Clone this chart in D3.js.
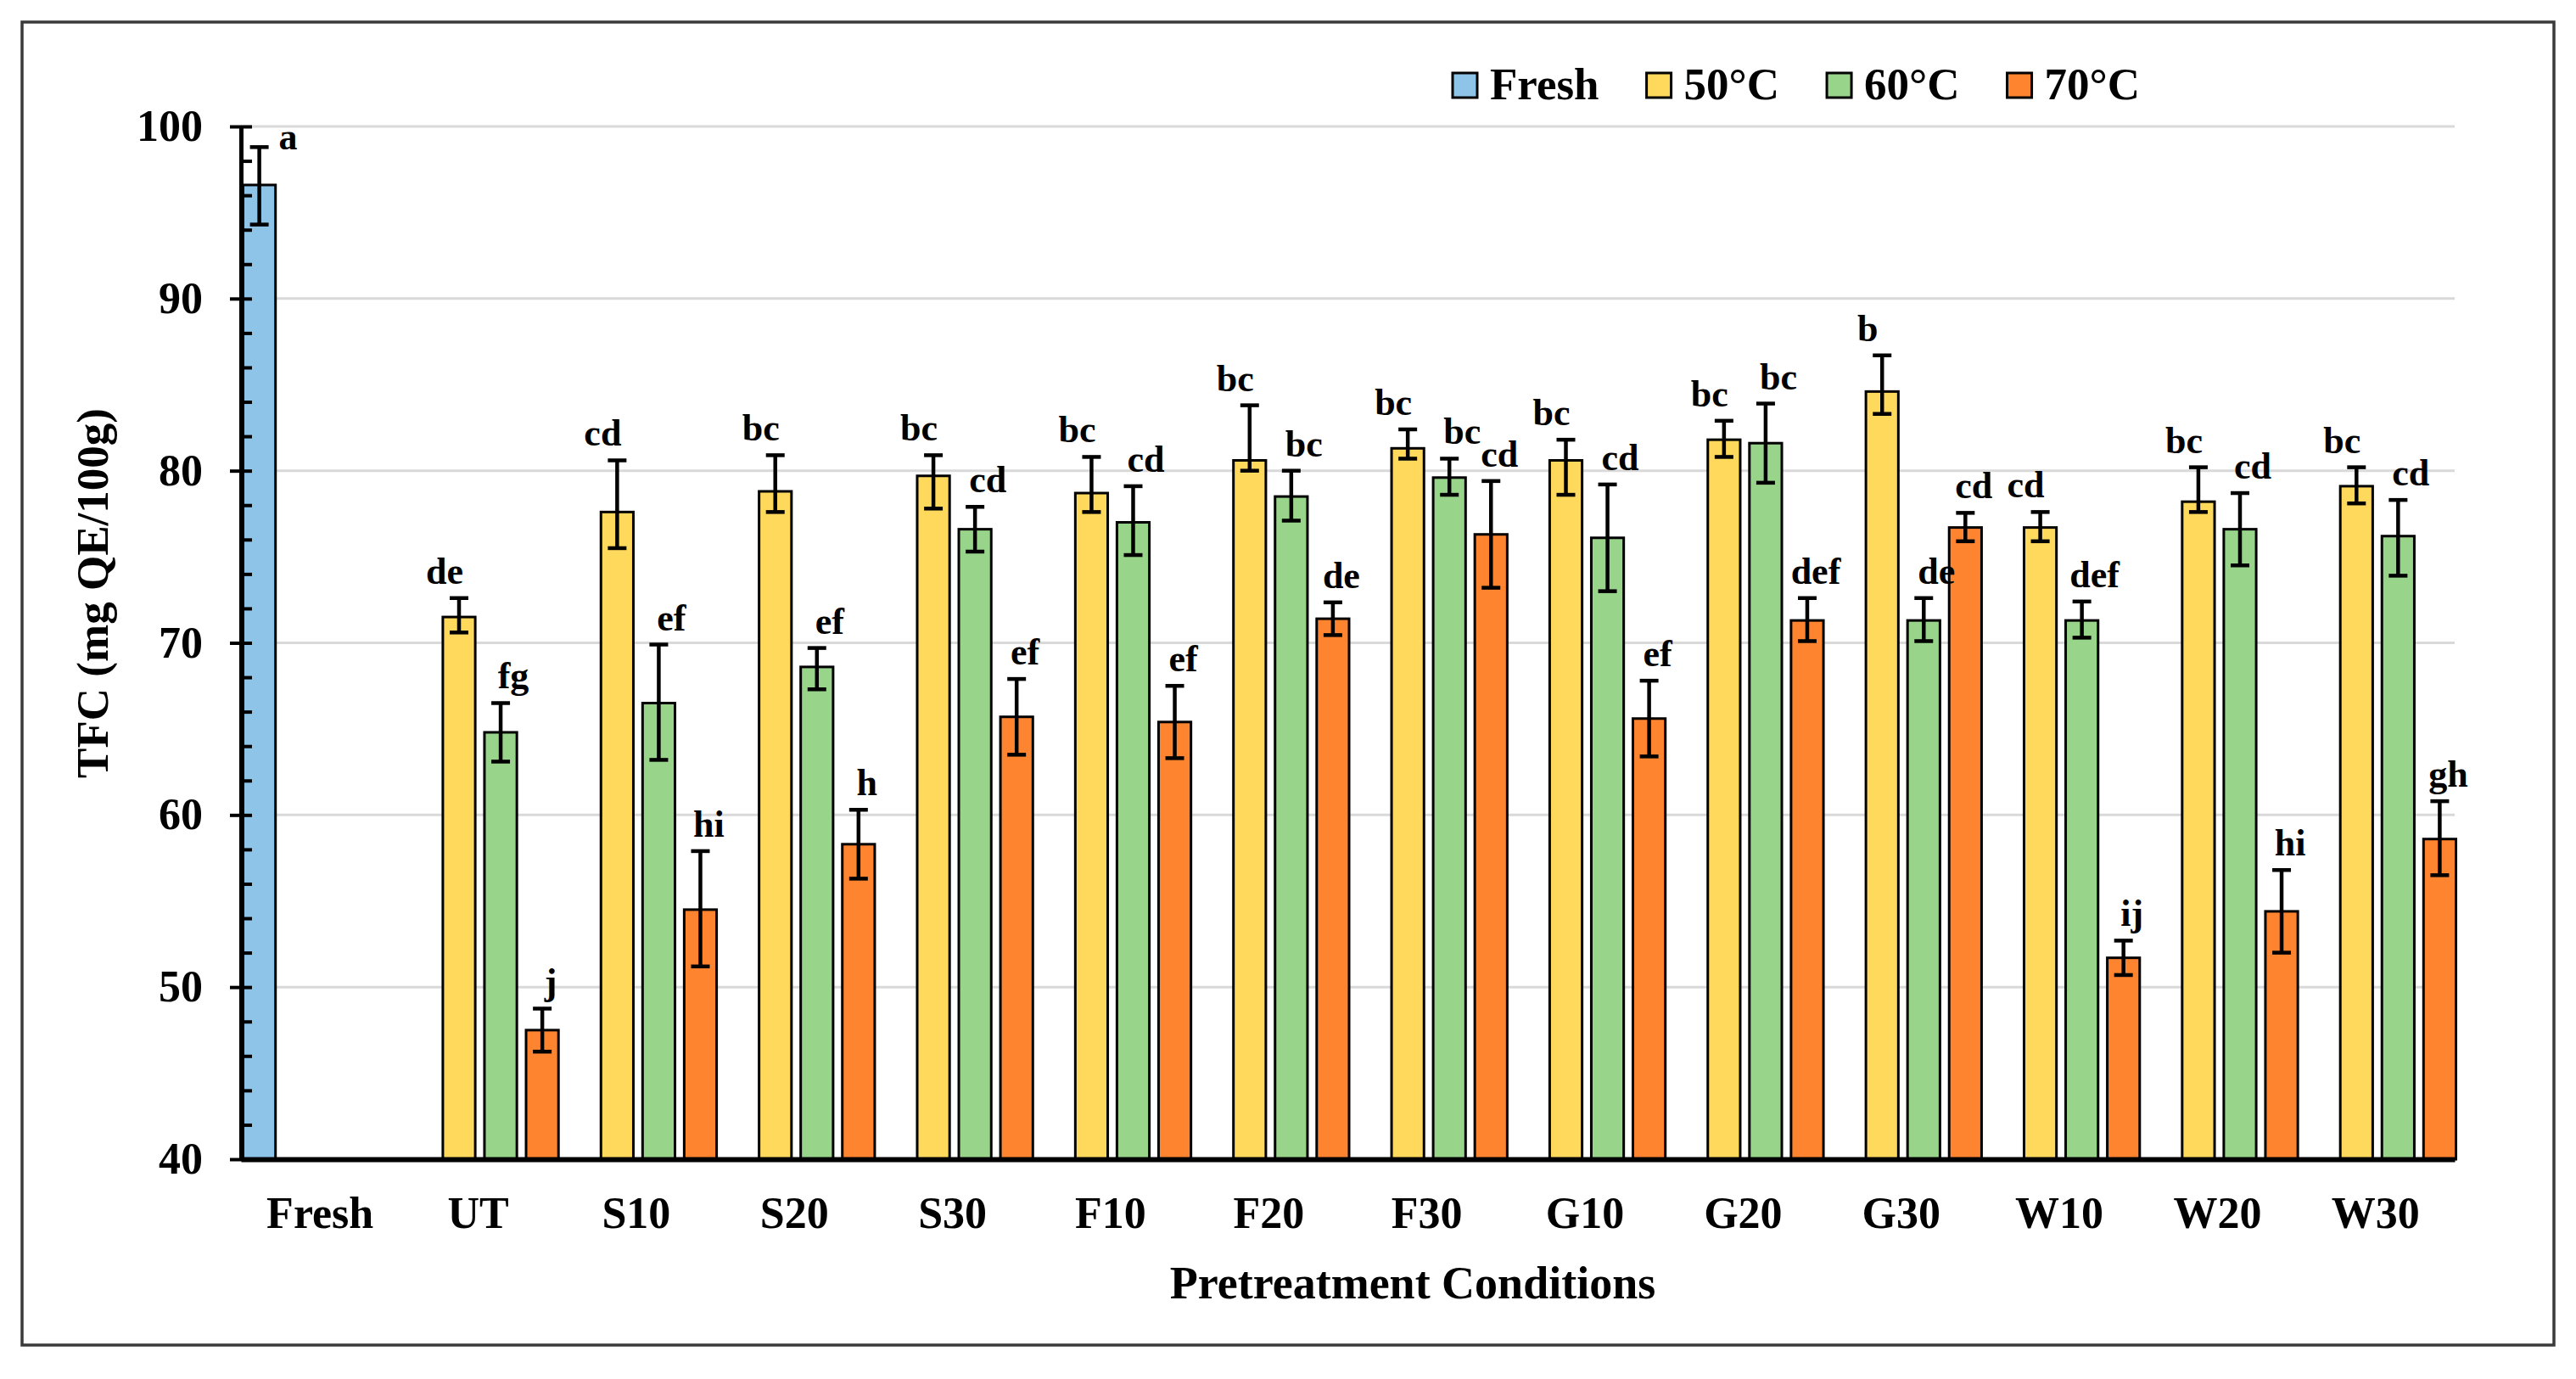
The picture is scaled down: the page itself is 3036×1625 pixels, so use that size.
<!DOCTYPE html>
<html>
<head>
<meta charset="utf-8">
<script src="https://cdn.jsdelivr.net/npm/d3@7"></script>
<style>
  body { margin: 0; background: #fff; }
  text { font-family: "Liberation Serif", "Times New Roman", serif; font-weight: bold; fill: #000; }
</style>
</head>
<body>
<div id="chart"></div>
<script>
// categories and series
var categories = ["Fresh", "UT", "S10", "S20", "S30", "F10", "F20", "F30", "G10", "G20", "G30", "W10", "W20", "W30"];
var treatments = categories.slice(1);
var seriesNames = ["Fresh", "50°C", "60°C", "70°C"];
var seriesColors = ["#8ec4e8", "#ffd95c", "#98d48a", "#ff8430"];
var yTickValues = [40, 50, 60, 70, 80, 90, 100];

// fresh sample
var freshMean = [96.6];
var freshErrUp = [2.2];
var freshErrDown = [2.3];
var freshLetters = ["a"];

// 50°C (UT ... W30)
var mean50 = [71.5, 77.6, 78.8, 79.7, 78.7, 80.6, 81.3, 80.6, 81.8, 84.6, 76.7, 78.2, 79.1];
var errUp50 = [1.1, 3.0, 2.1, 1.2, 2.1, 3.2, 1.1, 1.2, 1.1, 2.1, 0.9, 2.0, 1.1];
var errDown50 = [0.9, 2.1, 1.2, 1.9, 1.1, 0.6, 0.6, 2.0, 1.0, 1.3, 0.8, 0.6, 1.0];
var letters50 = ["de", "cd", "bc", "bc", "bc", "bc", "bc", "bc", "bc", "b", "cd", "bc", "bc"];

// 60°C
var mean60 = [64.8, 66.5, 68.6, 76.6, 77.0, 78.5, 79.6, 76.1, 81.6, 71.3, 71.3, 76.6, 76.2];
var errUp60 = [1.7, 3.4, 1.1, 1.3, 2.1, 1.5, 1.1, 3.1, 2.3, 1.3, 1.1, 2.1, 2.1];
var errDown60 = [1.7, 3.3, 1.3, 1.3, 1.9, 1.4, 1.0, 3.1, 2.3, 1.2, 1.0, 2.1, 2.3];
var letters60 = ["fg", "ef", "ef", "cd", "cd", "bc", "bc", "cd", "bc", "de", "def", "cd", "cd"];

// 70°C
var mean70 = [47.5, 54.5, 58.3, 65.7, 65.4, 71.4, 76.3, 65.6, 71.3, 76.7, 51.7, 54.4, 58.6];
var errUp70 = [1.25, 3.4, 2.0, 2.2, 2.1, 0.95, 3.1, 2.2, 1.3, 0.85, 1.0, 2.4, 2.2];
var errDown70 = [1.25, 3.3, 2.0, 2.2, 2.1, 0.95, 3.1, 2.2, 1.2, 0.8, 1.0, 2.4, 2.1];
var letters70 = ["j", "hi", "h", "ef", "ef", "de", "cd", "ef", "def", "cd", "ij", "hi", "gh"];

// build the bar list
var bars = [{cat: "Fresh", s: 0, mean: freshMean[0], up: freshErrUp[0], down: freshErrDown[0], letter: freshLetters[0]}];
var treatSeries = [
  [mean50, errUp50, errDown50, letters50],
  [mean60, errUp60, errDown60, letters60],
  [mean70, errUp70, errDown70, letters70]
];
treatments.forEach(function(c, i) {
  treatSeries.forEach(function(t, k) {
    bars.push({cat: c, s: k + 1, mean: t[0][i], up: t[1][i], down: t[2][i], letter: t[3][i]});
  });
});

// svg size and plot box
var svgWidth = 3036;
var svgHeight = 1625;
var plot = {left: 284, right: 2893, top: 149, bottom: 1366};

var svg = d3.select("#chart")
  .append("svg")
  .attr("width", svgWidth)
  .attr("height", svgHeight);

// outer frame
svg.append("rect")
  .attr("x", 26).attr("y", 26)
  .attr("width", 2984).attr("height", 1559)
  .attr("fill", "#fff")
  .attr("stroke", "#3a3a3a")
  .attr("stroke-width", 3.5);

// scales
var x0 = d3.scaleBand()
  .domain(categories)
  .range([plot.left, plot.right]);

var x1 = d3.scaleBand()
  .domain([0, 1, 2, 3])
  .range([1, x0.bandwidth() + 3])
  .paddingInner(0.16);

var y = d3.scaleLinear()
  .domain([40, 100])
  .range([plot.bottom, plot.top]);

// gridlines
svg.append("g").selectAll("line")
  .data(yTickValues.slice(1))
  .enter()
  .append("line")
  .attr("x1", plot.left).attr("x2", plot.right)
  .attr("y1", d => y(d)).attr("y2", d => y(d))
  .attr("stroke", "#d9d9d9")
  .attr("stroke-width", 3);

// bars
svg.append("g").selectAll("rect")
  .data(bars)
  .enter()
  .append("rect")
  .attr("x", d => x0(d.cat) + x1(d.s) + 1.5)
  .attr("width", x1.bandwidth() - 3)
  .attr("y", d => y(d.mean))
  .attr("height", d => y(40) - y(d.mean))
  .attr("fill", d => seriesColors[d.s])
  .attr("stroke", "#000")
  .attr("stroke-width", 3);

// error bars
var capHalf = 11;
var eb = svg.append("g").selectAll("g")
  .data(bars)
  .enter()
  .append("g")
  .attr("stroke", "#000")
  .attr("stroke-width", 4.5);

function cx(d) { return x0(d.cat) + x1(d.s) + x1.bandwidth() / 2; }

eb.append("line")
  .attr("x1", cx).attr("x2", cx)
  .attr("y1", d => y(d.mean + d.up))
  .attr("y2", d => y(d.mean - d.down));
eb.append("line")
  .attr("x1", d => cx(d) - capHalf).attr("x2", d => cx(d) + capHalf)
  .attr("y1", d => y(d.mean + d.up)).attr("y2", d => y(d.mean + d.up));
eb.append("line")
  .attr("x1", d => cx(d) - capHalf).attr("x2", d => cx(d) + capHalf)
  .attr("y1", d => y(d.mean - d.down)).attr("y2", d => y(d.mean - d.down));

// letter labels
var labelDx = [34, -17, 15, 10];
svg.append("g").selectAll("text")
  .data(bars)
  .enter()
  .append("text")
  .attr("x", d => cx(d) + labelDx[d.s])
  .attr("y", d => y(d.mean + d.up) + (d.s === 0 ? 3 : -17))
  .attr("text-anchor", "middle")
  .attr("font-size", "44px")
  .text(d => d.letter);

// y axis: major ticks (left part) with labels
var yAxis = svg.append("g")
  .attr("transform", `translate(${plot.left}, 0)`)
  .call(d3.axisLeft(y).tickValues(yTickValues).tickSize(13).tickPadding(32).tickSizeOuter(0));
yAxis.selectAll("text").attr("font-size", "52px").attr("font-family", null);
yAxis.select(".domain").attr("stroke", "#000").attr("stroke-width", 5);
yAxis.selectAll(".tick line").attr("stroke", "#000").attr("stroke-width", 4);

// y axis: inside ticks every 2 units
var minorValues = d3.range(40, 100.1, 2);
var yMinor = svg.append("g")
  .attr("transform", `translate(${plot.left}, 0)`)
  .call(d3.axisRight(y).tickValues(minorValues).tickSize(13).tickFormat("").tickSizeOuter(0));
yMinor.select(".domain").remove();
yMinor.selectAll(".tick line").attr("stroke", "#000").attr("stroke-width", 4);

// x axis
var xAxis = svg.append("g")
  .attr("transform", `translate(0, ${plot.bottom})`)
  .call(d3.axisBottom(x0).tickSize(0).tickPadding(44).tickSizeOuter(0));
xAxis.selectAll("text").attr("font-size", "52px").attr("font-family", null);
xAxis.select(".domain").attr("stroke", "#000").attr("stroke-width", 6);

// axis titles
svg.append("text")
  .attr("transform", "translate(127, 699) rotate(-90)")
  .attr("text-anchor", "middle")
  .attr("font-size", "53px")
  .text("TFC (mg QE/100g)");

svg.append("text")
  .attr("x", 1665)
  .attr("y", 1530)
  .attr("text-anchor", "middle")
  .attr("font-size", "54px")
  .text("Pretreatment Conditions");

// legend
var legend = svg.append("g");
var lx = 1712;
seriesNames.forEach(function(name, i) {
  legend.append("rect")
    .attr("x", lx).attr("y", 86)
    .attr("width", 29).attr("height", 29)
    .attr("fill", seriesColors[i])
    .attr("stroke", "#000")
    .attr("stroke-width", 3);
  var t = legend.append("text")
    .attr("x", lx + 44)
    .attr("y", 117)
    .attr("font-size", "53px")
    .text(name);
  lx = lx + 44 + t.node().getComputedTextLength() + 56;
});
</script>
</body>
</html>
